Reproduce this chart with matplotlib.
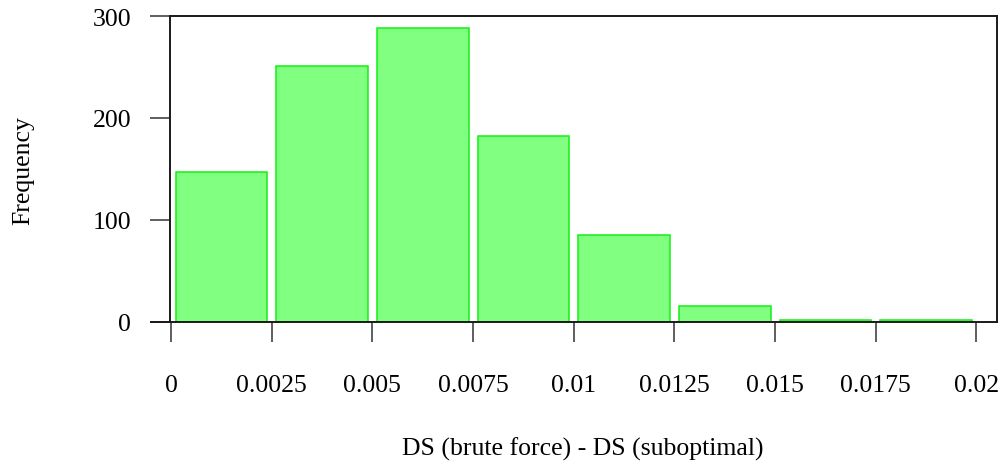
import matplotlib
matplotlib.use("Agg")
import matplotlib.pyplot as plt
import numpy as np

# Histogram of DS differences: bin edges and counts
bin_edges = [0.0, 0.0025, 0.005, 0.0075, 0.01, 0.0125, 0.015, 0.0175, 0.02]
counts = [147, 251, 288, 182, 85, 16, 2, 2]
x_ticks = [0.0, 0.0025, 0.005, 0.0075, 0.01, 0.0125, 0.015, 0.0175, 0.02]
x_tick_labels = ["0", "0.0025", "0.005", "0.0075", "0.01", "0.0125", "0.015", "0.0175", "0.02"]
y_ticks = [0, 100, 200, 300]

plt.rcParams["font.family"] = ["Liberation Serif", "DejaVu Serif"]
FS = 18.5

W, H = 1005, 464
fig = plt.figure(figsize=(W / 100, H / 100), dpi=100)
left, right, top, bottom = 170, 997, 17, 323
ax = fig.add_axes([left / W, 1 - bottom / H, (right - left) / W, (bottom - top) / H])

edges = np.array(bin_edges)
centers = (edges[:-1] + edges[1:]) / 2
widths = np.diff(edges) * 0.91
ax.bar(centers, counts, width=widths, color="#80FF80", edgecolor="#14F014",
       linewidth=1.1, zorder=2)

ax.set_xlim(-0.0000248, 0.020509)
ax.set_ylim(0, 300)

ax.set_xticks(x_ticks)
ax.set_xticklabels(x_tick_labels, fontsize=FS)
ax.set_yticks(y_ticks)
ax.set_yticklabels([str(v) for v in y_ticks], fontsize=FS)

ax.tick_params(axis="both", direction="out", length=14.4, width=1.1, color="#333333")
ax.tick_params(axis="x", pad=23)
ax.tick_params(axis="y", pad=13.5)

for s in ax.spines.values():
    s.set_linewidth(1.4)
    s.set_color("#1a1a1a")
ax.spines["bottom"].set_visible(False)
# baseline drawn from the end of the y ticks across to the right edge
ax.plot([-0.000497, 0.020509], [0, 0], color="#1a1a1a", lw=1.4, clip_on=False, zorder=3)

fig.text(583 / W, 1 - 456 / H, "DS (brute force) - DS (suboptimal)", fontsize=FS,
         ha="center", va="baseline")
fig.text(29 / W, 1 - 171 / H, "Frequency", fontsize=FS, rotation=90,
         ha="center", va="baseline", rotation_mode="anchor")

fig.savefig("out.png", dpi=100)
